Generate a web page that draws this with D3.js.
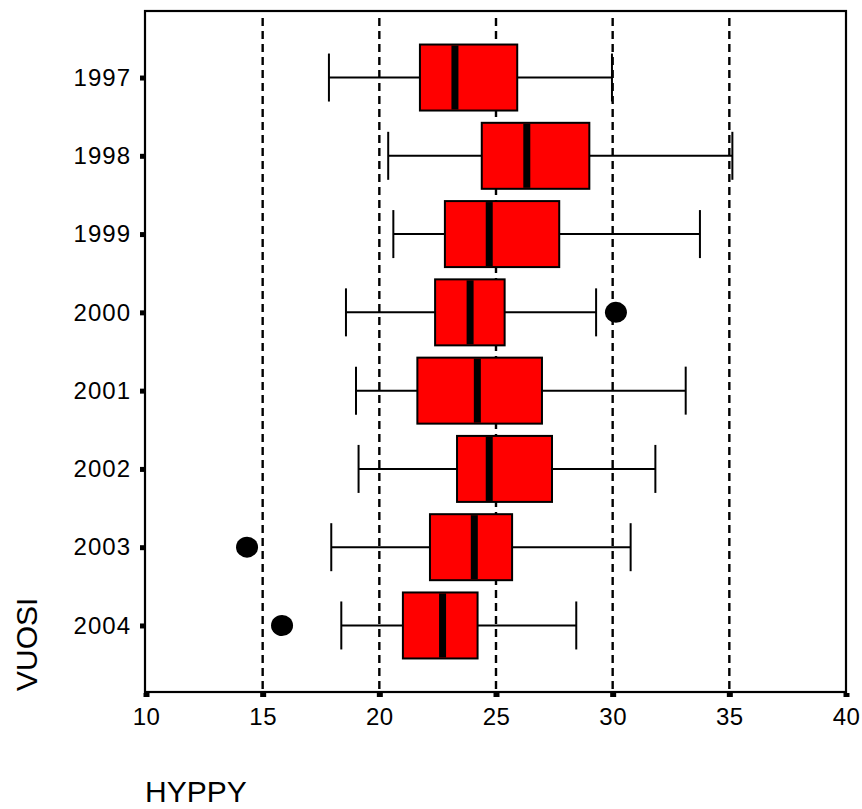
<!DOCTYPE html>
<meta charset="utf-8">
<script src="https://d3js.org/d3.v7.min.js"></script>
<style>
    body { margin: 0; background: #fff; }
    text { font-family: "Liberation Sans", Arial, Helvetica, sans-serif; fill: #000; }
    .grid { stroke: #000; stroke-width: 2.4px; stroke-dasharray: 8 5; }
    .whisker { stroke: #000; stroke-width: 2px; }
    .box { fill: #ff0000; stroke: #000; stroke-width: 2px; }
    .median { stroke: #000; stroke-width: 7px; }
</style>
<div id="chart"></div>
<script>
    // values
    const years = ["1997", "1998", "1999", "2000", "2001", "2002", "2003", "2004"];
    const whiskerLow = [17.84, 20.38, 20.6, 18.57, 19.0, 19.11, 17.94, 18.37];
    const q1 = [21.74, 24.39, 22.81, 22.39, 21.63, 23.33, 22.17, 21.01];
    const median = [23.24, 26.32, 24.71, 23.89, 24.2, 24.71, 24.07, 22.71];
    const q3 = [25.91, 29.0, 27.71, 25.37, 26.97, 27.4, 25.69, 24.21];
    const whiskerHigh = [29.97, 35.13, 33.74, 29.29, 33.13, 31.83, 30.77, 28.44];
    const outliers = [
        {year: "2000", value: 30.14},
        {year: "2003", value: 14.33},
        {year: "2004", value: 15.83}
    ];
    const xTicks = [10, 15, 20, 25, 30, 35, 40];
    const gridValues = [15, 20, 25, 30, 35];

    const width = 862, height = 809;
    const plotLeft = 146, plotRight = 846, plotTop = 11, plotBottom = 692;

    let svg = d3.select("#chart").append("svg")
        .attr("width", width)
        .attr("height", height);

    let x = d3.scaleLinear().domain([10, 40]).range([plotLeft, plotRight]);
    let y = d3.scalePoint().domain(years).range([plotTop, plotBottom]).padding(0.85);

    let boxes = years.map(function (d, i) {
        return {year: d, lo: whiskerLow[i], q1: q1[i], med: median[i], q3: q3[i], hi: whiskerHigh[i]};
    });

    // dashed reference lines
    svg.selectAll(".grid")
        .data(gridValues)
        .enter().append("line")
        .attr("class", "grid")
        .attr("x1", d => x(d)).attr("x2", d => x(d))
        .attr("y1", plotTop + 7).attr("y2", plotBottom);

    // frame
    svg.append("rect")
        .attr("x", plotLeft - 1).attr("y", plotTop)
        .attr("width", plotRight - plotLeft + 1).attr("height", plotBottom - plotTop)
        .attr("fill", "none").attr("stroke", "#000").attr("stroke-width", 2.2);

    const boxHalf = 33, capHalf = 24;

    let g = svg.selectAll(".boxplot")
        .data(boxes)
        .enter().append("g")
        .attr("class", "boxplot");

    g.append("line").attr("class", "whisker")
        .attr("x1", d => x(d.lo)).attr("x2", d => x(d.hi))
        .attr("y1", d => y(d.year)).attr("y2", d => y(d.year));
    g.append("line").attr("class", "whisker")
        .attr("x1", d => x(d.lo)).attr("x2", d => x(d.lo))
        .attr("y1", d => y(d.year) - capHalf).attr("y2", d => y(d.year) + capHalf);
    g.append("line").attr("class", "whisker")
        .attr("x1", d => x(d.hi)).attr("x2", d => x(d.hi))
        .attr("y1", d => y(d.year) - capHalf).attr("y2", d => y(d.year) + capHalf);
    g.append("rect").attr("class", "box")
        .attr("x", d => x(d.q1))
        .attr("y", d => y(d.year) - boxHalf)
        .attr("width", d => x(d.q3) - x(d.q1))
        .attr("height", boxHalf * 2);
    g.append("line").attr("class", "median")
        .attr("x1", d => x(d.med)).attr("x2", d => x(d.med))
        .attr("y1", d => y(d.year) - boxHalf + 1).attr("y2", d => y(d.year) + boxHalf - 1);

    svg.selectAll(".outlier")
        .data(outliers)
        .enter().append("ellipse")
        .attr("class", "outlier")
        .attr("cx", d => x(d.value))
        .attr("cy", d => y(d.year))
        .attr("rx", 11).attr("ry", 10.5)
        .attr("fill", "#000");

    // X axis
    let xAxis = svg.append("g")
        .attr("transform", "translate(0," + (plotBottom + 1) + ")")
        .call(d3.axisBottom(x).tickValues(xTicks).tickSizeOuter(0).tickSize(4).tickPadding(11));
    xAxis.select(".domain").remove();
    xAxis.selectAll(".tick line").attr("stroke", "#000").attr("stroke-width", 6);
    xAxis.selectAll(".tick text")
        .style("font-size", "24px")
        .style("letter-spacing", "0.5px")
        .style("font-family", "'Liberation Sans', Arial, sans-serif");

    // Y axis
    let yAxis = svg.append("g")
        .attr("transform", "translate(" + (plotLeft - 1) + ",0)")
        .call(d3.axisLeft(y).tickSizeOuter(0).tickSize(5).tickPadding(9));
    yAxis.select(".domain").remove();
    yAxis.selectAll(".tick line").attr("stroke", "#000").attr("stroke-width", 5);
    yAxis.selectAll(".tick text")
        .style("font-size", "24px")
        .style("letter-spacing", "1px")
        .style("font-family", "'Liberation Sans', Arial, sans-serif");

    // axis titles
    svg.append("text")
        .attr("x", 145).attr("y", 802)
        .style("font-size", "30px")
        .text("HYPPY");

    svg.append("text")
        .attr("transform", "translate(37,691) rotate(-90)")
        .style("font-size", "30px")
        .text("VUOSI");
</script>
